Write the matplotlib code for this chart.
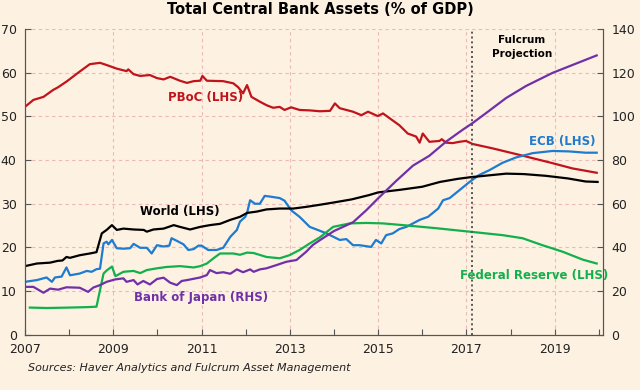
"""Total central bank assets (% of GDP), with a Fulcrum projection from 2017."""

import matplotlib.pyplot as plt
import numpy as np

BG = "#FDF1E1"

# decimal years / % of GDP
pboc_x = [2007.0, 2007.19, 2007.42, 2007.64, 2007.75, 2007.94, 2008.24, 2008.47, 2008.70,
          2008.85, 2009.07, 2009.30, 2009.34, 2009.46, 2009.61, 2009.83, 2009.99, 2010.14,
          2010.29, 2010.51, 2010.67, 2010.82, 2010.97, 2011.02, 2011.12, 2011.49, 2011.72,
          2011.83, 2011.94, 2012.03, 2012.13, 2012.32, 2012.47, 2012.62, 2012.77, 2012.88,
          2013.03, 2013.22, 2013.45, 2013.68, 2013.91, 2014.02, 2014.13, 2014.43, 2014.62,
          2014.77, 2014.99, 2015.11, 2015.26, 2015.48, 2015.67, 2015.86, 2015.94, 2016.01,
          2016.16, 2016.39, 2016.44, 2016.54, 2016.69, 2016.84, 2016.99, 2017.14, 2017.59,
          2018.20, 2018.95, 2019.40, 2019.95]
pboc_y = [52.2, 53.8, 54.5, 56.1, 56.7, 58.0, 60.3, 62.0, 62.3,
          61.8, 61.0, 60.4, 60.8, 59.7, 59.3, 59.5, 58.8, 58.5,
          59.1, 58.2, 57.7, 58.1, 58.2, 59.3, 58.2, 58.1, 57.6,
          56.7, 55.3, 57.2, 54.5, 53.4, 52.6, 52.0, 52.2, 51.5,
          52.1, 51.5, 51.4, 51.2, 51.3, 53.0, 51.9, 51.1, 50.3,
          51.1, 50.1, 50.7, 49.6, 48.0, 46.1, 45.4, 44.0, 46.1,
          44.2, 44.4, 44.8, 44.0, 43.9, 44.2, 44.4, 43.7, 42.7,
          41.2, 39.3, 38.1, 37.1]

ecb_x = [2007.0, 2007.27, 2007.49, 2007.61, 2007.68, 2007.83, 2007.94, 2008.02, 2008.24,
         2008.40, 2008.51, 2008.62, 2008.70, 2008.78, 2008.85, 2008.89, 2008.97, 2009.08,
         2009.23, 2009.38, 2009.46, 2009.61, 2009.76, 2009.87, 2009.99, 2010.14, 2010.27,
         2010.32, 2010.44, 2010.59, 2010.70, 2010.82, 2010.93, 2011.0, 2011.15, 2011.34,
         2011.49, 2011.65, 2011.80, 2011.87, 2011.99, 2012.03, 2012.10, 2012.21, 2012.32,
         2012.43, 2012.58, 2012.77, 2012.88, 2013.03, 2013.22, 2013.45, 2013.68, 2013.83,
         2014.13, 2014.28, 2014.43, 2014.58, 2014.84, 2014.95, 2015.07, 2015.18, 2015.33,
         2015.48, 2015.64, 2015.94, 2016.13, 2016.36, 2016.47, 2016.62, 2016.84, 2017.07,
         2017.29, 2017.52, 2017.82, 2018.12, 2018.50, 2018.95, 2019.32, 2019.70, 2019.95]
ecb_y = [12.1, 12.5, 13.1, 12.1, 13.1, 13.3, 15.4, 13.6, 14.0,
         14.6, 14.4, 15.0, 15.1, 20.9, 21.3, 20.7, 21.7, 19.8,
         19.7, 19.8, 20.8, 19.9, 19.9, 18.6, 20.5, 20.2, 20.4,
         22.1, 21.5, 20.7, 19.4, 19.6, 20.4, 20.4, 19.4, 19.4,
         19.9, 22.4, 24.0, 25.9, 27.0, 27.9, 30.8, 30.0, 30.0,
         31.8, 31.6, 31.3, 30.7, 28.5, 27.0, 24.7, 23.8, 23.2,
         21.7, 21.9, 20.5, 20.5, 20.1, 21.7, 20.9, 22.8, 23.2,
         24.2, 24.7, 26.3, 27.0, 28.9, 30.8, 31.3, 33.1, 35.0,
         36.6, 37.7, 39.4, 40.6, 41.6, 42.1, 42.0, 41.7, 41.7]

world_x = [2007.0, 2007.27, 2007.57, 2007.74, 2007.85, 2007.94, 2008.02, 2008.24, 2008.47,
           2008.62, 2008.74, 2008.85, 2008.97, 2009.08, 2009.23, 2009.46, 2009.69, 2009.76,
           2009.91, 2010.14, 2010.37, 2010.51, 2010.74, 2010.97, 2011.19, 2011.42, 2011.65,
           2011.87, 2012.03, 2012.25, 2012.47, 2012.77, 2013.08, 2013.38, 2013.70, 2014.0,
           2014.40, 2014.80, 2015.0, 2015.50, 2016.0, 2016.40, 2016.80, 2017.10, 2017.50,
           2017.90, 2018.30, 2018.80, 2019.30, 2019.70, 2019.97]
world_y = [15.7, 16.3, 16.5, 16.9, 17.0, 17.8, 17.6, 18.2, 18.6,
           18.9, 23.2, 24.0, 25.1, 24.0, 24.3, 24.1, 24.0, 23.6,
           24.1, 24.3, 25.1, 24.7, 24.1, 24.7, 25.1, 25.4, 26.3,
           27.0, 27.9, 28.2, 28.7, 28.9, 28.9, 29.3, 29.8, 30.3,
           31.0, 32.0, 32.6, 33.2, 33.9, 35.0, 35.7, 36.1, 36.5,
           36.9, 36.8, 36.4, 35.8, 35.1, 35.0]

fed_x = [2007.11, 2007.50, 2008.00, 2008.40, 2008.62, 2008.70, 2008.78, 2008.85, 2008.97,
         2009.05, 2009.23, 2009.46, 2009.61, 2009.76, 2009.99, 2010.20, 2010.51, 2010.82,
         2010.97, 2011.12, 2011.27, 2011.42, 2011.72, 2011.87, 2012.03, 2012.18, 2012.47,
         2012.77, 2012.99, 2013.22, 2013.45, 2013.68, 2013.98, 2014.36, 2014.73, 2015.10,
         2015.56, 2016.31, 2017.07, 2017.82, 2018.27, 2018.72, 2019.18, 2019.63, 2019.95]
fed_y = [6.2, 6.1, 6.2, 6.3, 6.4, 10.2, 14.0, 14.7, 15.6,
         13.4, 14.4, 14.6, 14.1, 14.8, 15.2, 15.5, 15.7, 15.4,
         15.7, 16.3, 17.5, 18.6, 18.6, 18.3, 18.8, 18.7, 17.8,
         17.5, 18.2, 19.4, 20.9, 22.3, 24.7, 25.5, 25.6, 25.5,
         25.1, 24.4, 23.6, 22.8, 22.1, 20.5, 19.0, 17.2, 16.3]

# Bank of Japan is on the right-hand scale
boj_x = [2007.0, 2007.19, 2007.42, 2007.57, 2007.75, 2007.94, 2008.24, 2008.43, 2008.55,
         2008.70, 2008.85, 2009.04, 2009.23, 2009.30, 2009.46, 2009.55, 2009.68, 2009.83,
         2009.99, 2010.14, 2010.29, 2010.44, 2010.55, 2010.67, 2010.82, 2010.97, 2011.12,
         2011.19, 2011.34, 2011.49, 2011.65, 2011.80, 2011.94, 2012.10, 2012.18, 2012.32,
         2012.47, 2012.70, 2012.92, 2013.15, 2013.37, 2013.52, 2013.68, 2014.0, 2014.43,
         2014.73, 2015.0, 2015.41, 2015.79, 2016.16, 2016.54, 2016.92, 2017.14, 2017.44,
         2017.90, 2018.35, 2018.95, 2019.40, 2019.95]
boj_y = [21.9, 21.9, 19.2, 21.1, 20.6, 21.7, 21.5, 19.6, 21.6,
         22.7, 24.2, 25.3, 25.8, 24.2, 25.0, 23.0, 24.6, 23.0,
         25.5, 26.1, 23.8, 22.7, 24.6, 25.0, 25.6, 26.2, 27.3,
         29.6, 28.2, 28.6, 27.9, 29.9, 28.6, 29.9, 28.8, 29.9,
         30.4, 31.9, 33.4, 34.2, 38.0, 41.1, 43.3, 47.5, 51.5,
         57.0, 62.5, 70.5, 77.5, 82.0, 88.5, 94.0, 97.0, 101.5,
         108.5, 114.0, 120.0, 123.6, 128.0]

projection_start = 2017.13
year_ticks = list(range(2007, 2021))
year_labels = [str(y) if y % 2 == 1 else "" for y in year_ticks]


def main() -> None:
    plt.rcParams["font.family"] = ["DejaVu Sans"]
    fig = plt.figure(figsize=(6.4, 3.9), dpi=100, facecolor=BG)
    ax = fig.add_axes([0.039, 0.142, 0.903, 0.783], facecolor=BG)
    ax2 = ax.twinx()

    ax.plot(pboc_x, pboc_y, color="#C0141C", lw=1.6)
    ax.plot(ecb_x, ecb_y, color="#1E7BD0", lw=1.6)
    ax.plot(world_x, world_y, color="black", lw=1.6)
    ax.plot(fed_x, fed_y, color="#12B04C", lw=1.6)
    ax2.plot(boj_x, boj_y, color="#7030A8", lw=1.6)

    ax.set_xlim(2007, 2020.09)
    ax.set_ylim(0, 70)
    ax2.set_ylim(0, 140)
    ax.set_yticks(np.arange(0, 71, 10))
    ax2.set_yticks(np.arange(0, 141, 20))
    ax.set_xticks(year_ticks)
    ax.set_xticklabels(year_labels)

    # dashed pink grid on odd years and every 10 on the left scale
    for yr in range(2009, 2020, 2):
        ax.axvline(yr, color="#EDB8B8", lw=0.8, ls=(0, (3, 3)), zorder=0)
    for v in range(10, 71, 10):
        ax.axhline(v, color="#EDB8B8", lw=0.8, ls=(0, (3, 3)), zorder=0)
    ax.axvline(projection_start, color="#555555", lw=1.4, ls=(0, (1, 1.5)))

    for a in (ax, ax2):
        a.spines["top"].set_visible(False)
        for s in ("left", "right", "bottom"):
            a.spines[s].set_color("#555555")
        a.tick_params(direction="in", length=4, colors="#555555",
                      labelcolor="#222222", labelsize=9, pad=6)

    txt = dict(fontsize=8.5, fontweight="bold", ha="center", va="center")
    fig.text(206 / 640, 1 - 98 / 390, "PBoC (LHS)", color="#C0141C", **txt)
    fig.text(180 / 640, 1 - 212 / 390, "World (LHS)", color="black", **txt)
    fig.text(201 / 640, 1 - 298 / 390, "Bank of Japan (RHS)", color="#7030A8", **txt)
    fig.text(562 / 640, 1 - 141 / 390, "ECB (LHS)", color="#1E7BD0", **txt)
    fig.text(534 / 640, 1 - 275 / 390, "Federal Reserve (LHS)", color="#12B04C", **txt)
    fig.text(522 / 640, 1 - 47 / 390, "Fulcrum\nProjection", color="black",
             fontsize=7.5, fontweight="bold", ha="center", va="center", linespacing=1.4)

    fig.text(320 / 640, 1 - 10 / 390, "Total Central Bank Assets (% of GDP)",
             fontsize=10.5, fontweight="bold", ha="center", va="center")
    fig.text(28 / 640, 1 - 368 / 390, "Sources: Haver Analytics and Fulcrum Asset Management",
             fontsize=8, style="italic", ha="left", va="center", color="#222222")

    fig.savefig("out.png", dpi=100, facecolor=BG)


if __name__ == "__main__":
    main()
